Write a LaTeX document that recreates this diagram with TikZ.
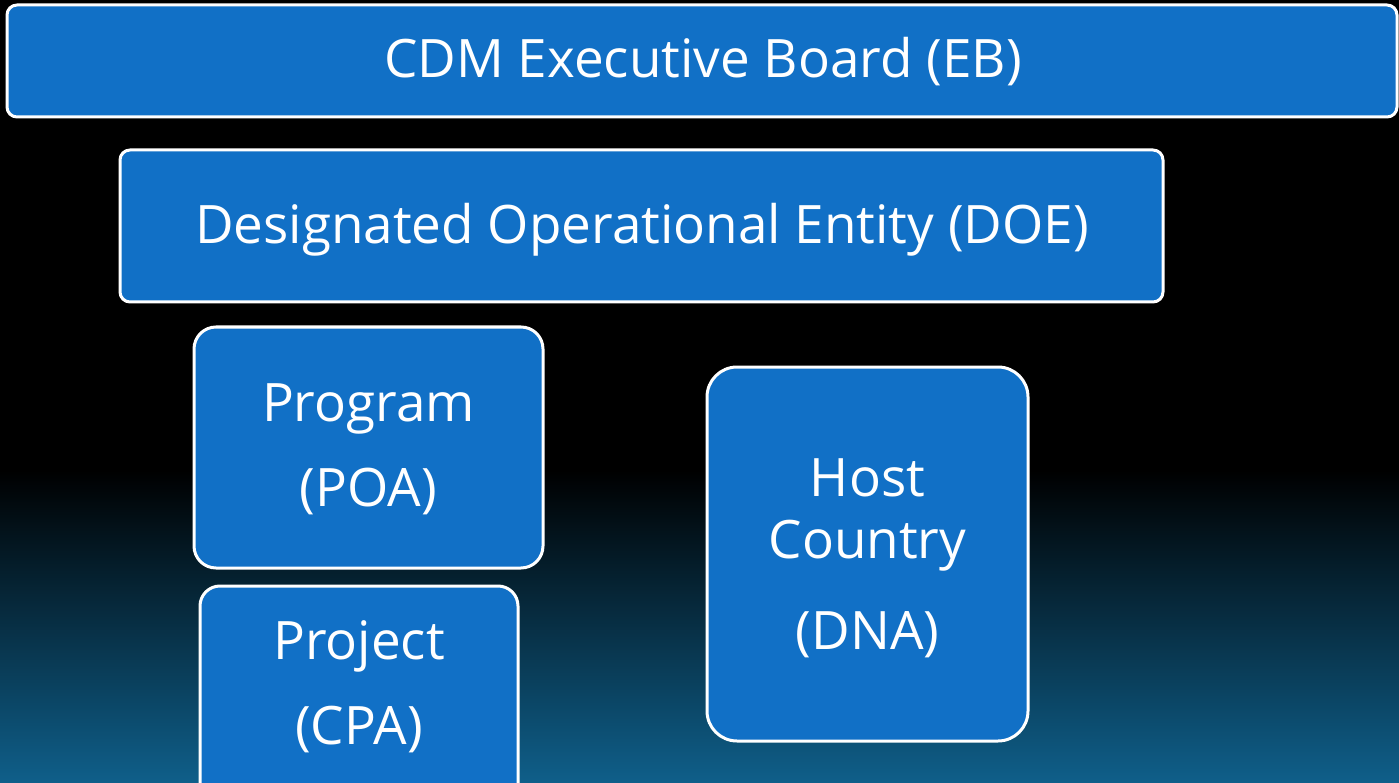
\documentclass[tikz,border=0pt]{standalone}
\usepackage{fontspec}
\setmainfont{Open Sans}
\definecolor{boxblue}{HTML}{1170C6}
\definecolor{deepteal}{HTML}{0F5F8A}
\begin{document}
\begin{tikzpicture}[x=1pt,y=-1pt,
  box/.style={draw=white, line width=3pt, fill=boxblue},
  lbl/.style={text=white, anchor=base, inner sep=0pt, font=\fontsize{53}{63}\selectfont}]
\useasboundingbox (0,0) rectangle (1399,783);
\fill[black] (0,0) rectangle (1399,472);
\shade[top color=black, bottom color=deepteal] (0,470) rectangle (1399,783);
\clip (0,0) rectangle (1399,783);
% boxes
\draw[box, rounded corners=10pt] (7,5) rectangle (1397,117);
\node[inner sep=0pt] (eb) at (702,61) {};
\draw[box, rounded corners=10pt] (120,150) rectangle (1163,302);
\node[inner sep=0pt] (doe) at (641.5,226) {};
\draw[box, rounded corners=22pt] (194,327) rectangle (543,568);
\node[inner sep=0pt] (poa) at (368.5,447.5) {};
\draw[box, rounded corners=20pt] (200,586) rectangle (518,810);
\node[inner sep=0pt] (cpa) at (359,698) {};
\draw[box, rounded corners=30pt] (707,367) rectangle (1028,741);
\node[inner sep=0pt] (dna) at (867.5,554) {};
% labels
\node[lbl] (ebt) at (703,78) {CDM Executive Board (EB)};
\node[lbl] (doet) at (642,244) {Designated Operational Entity (DOE)};
\node[lbl] (poat1) at (368.5,421) {Program};
\node[lbl] (poat2) at (368.5,506) {(POA)};
\node[lbl] (cpat1) at (359,659) {Project};
\node[lbl] (cpat2) at (359,744) {(CPA)};
\node[lbl] (dnat1) at (867.5,496) {Host};
\node[lbl] (dnat2) at (867.5,558) {Country};
\node[lbl] (dnat3) at (867.5,649) {(DNA)};
\end{tikzpicture}
\end{document}
